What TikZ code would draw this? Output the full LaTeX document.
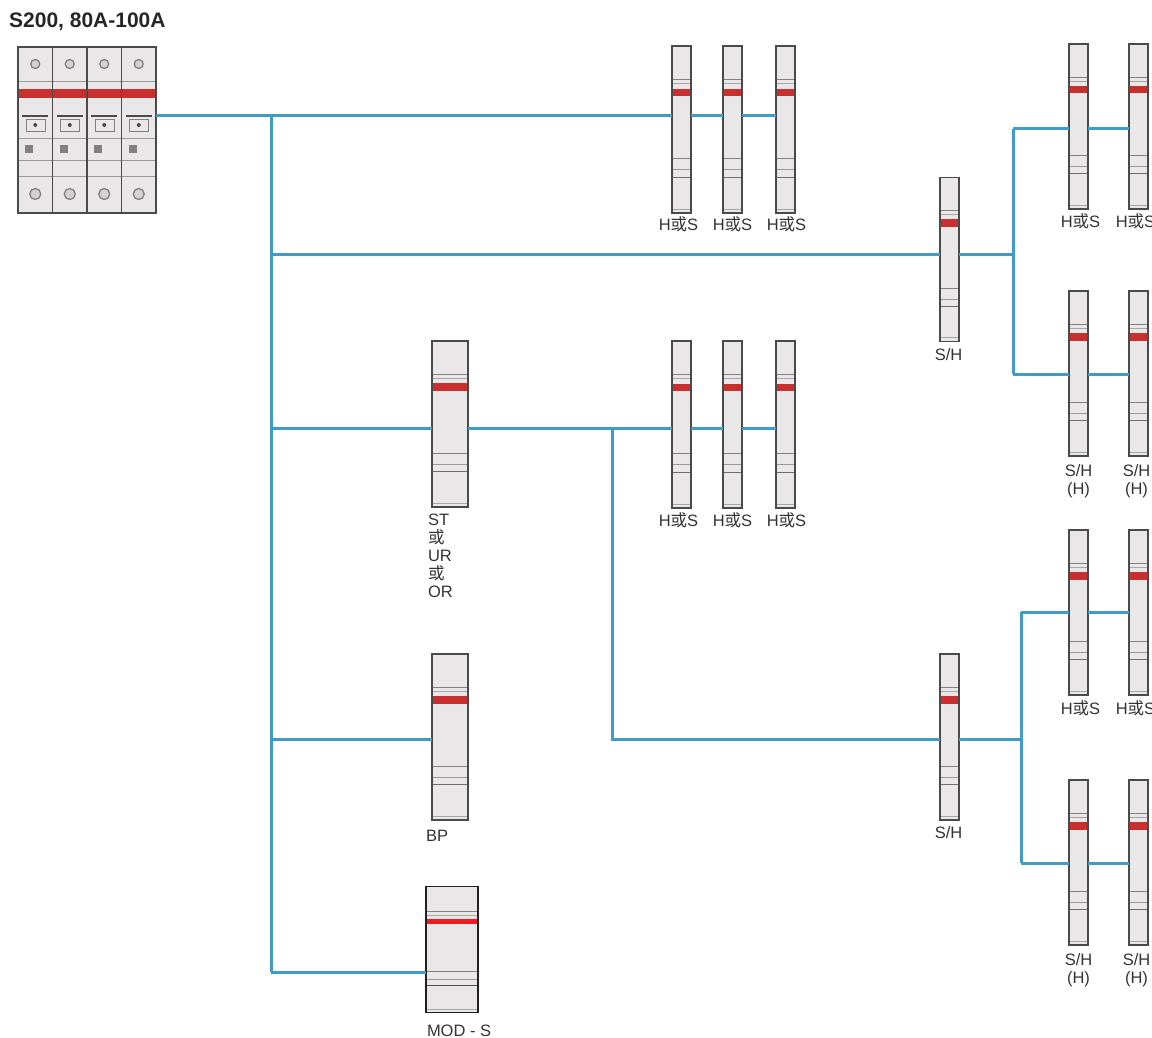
\documentclass[tikz,border=0pt]{standalone}
\usepackage{fontspec}
\setmainfont{Liberation Sans}
\newfontfamily\cjk{Noto Sans CJK SC}
\usetikzlibrary{positioning}
\definecolor{wire}{HTML}{3F9CC9}
\definecolor{band}{HTML}{C8302F}
\definecolor{casing}{HTML}{E9E7E7}
\definecolor{edge}{HTML}{4A4A4A}
\newcommand{\ho}{{\cjk 或}}

\begin{document}
\begin{tikzpicture}[x=1pt, y=-1pt,
	module/.style 2 args={rectangle, draw=edge, fill=casing, line width=1.5pt, inner sep=0, outer sep=0, minimum width=#1, minimum height=#2,
		path picture={
			\begin{scope}[x=#1, y=-#2]
				\draw[gray, line width=.8pt] (-.5,-.3) -- (.5,-.3);
				\draw[gray!70, line width=.6pt] (-.5,-.275) -- (.5,-.275);
				\fill[band] (-.5,-.245) rectangle (.5,-.2);
				\draw[gray, line width=.8pt] (-.5,.175) -- (.5,.175);
				\draw[gray!80, line width=.6pt] (-.5,.24) -- (.5,.24);
				\draw[edge!80, line width=.9pt] (-.5,.285) -- (.5,.285);
				\draw[gray!70, line width=.6pt] (-.5,.475) -- (.5,.475);
			\end{scope}
		}},
	pole/.style={rectangle, draw=edge, fill=casing, line width=1.4pt, inner sep=0, outer sep=0, minimum width=34.5pt, minimum height=166pt,
		path picture={
			\fill[edge] (-9,-83) rectangle (9,-81.5);
			\fill[edge] (-9,81.5) rectangle (9,83);
			\draw[gray, line width=1.3pt, fill=gray!35] (0,-66) circle (4.5);
			\draw[gray!80, line width=.7pt] (-18,-49) -- (18,-49);
			\fill[band] (-18,-41) rectangle (18,-32);
			\draw[edge, line width=1.3pt] (-13,-14) -- (13,-14);
			\draw[gray, line width=.7pt] (-9,-11) rectangle (10,1);
			\fill[edge] (0,-5) circle (2);
			\draw[gray!80, line width=.8pt] (-18,8) -- (18,8);
			\fill[gray] (-10,15) rectangle (-2,23);
			\draw[gray!80, line width=.8pt] (-18,30) -- (18,30);
			\draw[gray!80, line width=.8pt] (-18,46) -- (18,46);
			\draw[gray, line width=1.3pt, fill=gray!35] (0,64) circle (5.5);
		}},
	links/.style={draw=wire, line width=3pt, line join=miter},
	tag/.style={inner sep=0, outer sep=0, align=center, text=black!80, font=\fontsize{16.5}{18}\selectfont}]

		\useasboundingbox (0,0) rectangle (1152,1038);

		\coordinate (tapa) at (271,116);
		\coordinate (tapb) at (271,254);
		\coordinate (tapc) at (271,428);
		\coordinate (tapd) at (271,739);
		\coordinate (tape) at (271,972);
		\coordinate (splitu) at (1013,254);
		\coordinate (lineu) at (1013,129);
		\coordinate (liner) at (1013,374);
		\coordinate (branch) at (612,428);
		\coordinate (branchend) at (612,739);
		\coordinate (splitp) at (1021,739);
		\coordinate (linep) at (1021,612);
		\coordinate (lineq) at (1021,863);

		\node[pole] at (35.25,130) (polea) {};
		\node[pole, right = 0pt of polea] (poleb) {};
		\node[pole, right = 0pt of poleb] (polec) {};
		\node[pole, right = 0pt of polec] (poled) {};
		\node[anchor=west, inner sep=0, text=black!85, font=\fontsize{21}{24}\selectfont\bfseries] at (9,22) (title) {S200, 80A-100A};

		\node[module={19pt}{167pt}] at (681.5,129.5) (hsa) {};
		\node[module={19pt}{167pt}, right = 32pt of hsa] (hsb) {};
		\node[module={19pt}{167pt}, right = 34pt of hsb] (hsc) {};

		\node[module={19pt}{167pt}, below = 128pt of hsa] (hta) {};
		\node[module={19pt}{167pt}, below = 128pt of hsb] (htb) {};
		\node[module={19pt}{167pt}, below = 128pt of hsc] (htc) {};

		\node[module={36pt}{166pt}] at (450,424) (st) {};
		\node[module={36pt}{166pt}, below = 147pt of st] (bp) {};

		\begin{scope}
			\definecolor{band}{HTML}{ED1C24}
			\definecolor{edge}{HTML}{231F20}
			\node[module={52pt}{126pt}] at (452,949.5) (mods) {};
		\end{scope}

		\node[module={19pt}{164pt}] at (949.5,259.5) (sha) {};
		\node[module={19pt}{166pt}] at (949.5,737) (shb) {};

		\node[module={19pt}{165pt}] at (1078.5,126.5) (ua) {};
		\node[module={19pt}{165pt}, right = 41pt of ua] (ub) {};
		\node[module={19pt}{165pt}, below = 82pt of ua] (ra) {};
		\node[module={19pt}{165pt}, below = 82pt of ub] (rb) {};
		\node[module={19pt}{165pt}, below = 74pt of ra] (pa) {};
		\node[module={19pt}{165pt}, below = 74pt of rb] (pb) {};
		\node[module={19pt}{165pt}, below = 85pt of pa] (qa) {};
		\node[module={19pt}{165pt}, below = 85pt of pb] (qb) {};

		\node[tag, below = 4pt of hsa, xshift=-3pt] (hsatag) {H\ho S};
		\node[tag, below = 4pt of hsb] (hsbtag) {H\ho S};
		\node[tag, below = 4pt of hsc, xshift=1pt] (hsctag) {H\ho S};
		\node[tag, below = 5pt of hta, xshift=-3pt] (htatag) {H\ho S};
		\node[tag, below = 5pt of htb] (htbtag) {H\ho S};
		\node[tag, below = 5pt of htc, xshift=1pt] (htctag) {H\ho S};

		\node[tag, below = 7pt of sha, xshift=-1pt] (shatag) {S/H};
		\node[tag, below = 7pt of shb, xshift=-1pt] (shbtag) {S/H};

		\node[tag, below = 5pt of ua, xshift=2pt] (uatag) {H\ho S};
		\node[tag, below = 5pt of ub, xshift=-3pt] (ubtag) {H\ho S};
		\node[tag, below = 9pt of ra] (ratag) {S/H\\(H)};
		\node[tag, below = 9pt of rb, xshift=-2pt] (rbtag) {S/H\\(H)};
		\node[tag, below = 6pt of pa, xshift=2pt] (patag) {H\ho S};
		\node[tag, below = 6pt of pb, xshift=-3pt] (pbtag) {H\ho S};
		\node[tag, below = 9pt of qa] (qatag) {S/H\\(H)};
		\node[tag, below = 9pt of qb, xshift=-2pt] (qbtag) {S/H\\(H)};

		\node[tag, align=left, anchor=north west] at (428,514) (sttag) {ST\\\ho\\UR\\\ho\\OR};
		\node[tag, anchor=north west] at (426,830) (bptag) {BP};
		\node[tag, anchor=north west] at (427,1025) (modstag) {MOD - S};

		\draw[links] (tapa) -- (tape);

		\draw[links] (poled.east |- tapa) -- (hsa.west |- tapa);
		\draw[links] (hsa.east |- tapa) -- (hsb.west |- tapa);
		\draw[links] (hsb.east |- tapa) -- (hsc.west |- tapa);

		\draw[links] (tapb) -- (sha.west |- tapb);
		\draw[links] (sha.east |- tapb) -- (splitu);
		\draw[links] (lineu) -- (liner);
		\draw[links] (lineu) -- (ua.west |- lineu);
		\draw[links] (ua.east |- lineu) -- (ub.west |- lineu);
		\draw[links] (liner) -- (ra.west |- liner);
		\draw[links] (ra.east |- liner) -- (rb.west |- liner);

		\draw[links] (tapc) -- (st.west |- tapc);
		\draw[links] (st.east |- tapc) -- (hta.west |- tapc);
		\draw[links] (hta.east |- tapc) -- (htb.west |- tapc);
		\draw[links] (htb.east |- tapc) -- (htc.west |- tapc);

		\draw[links] (branch) -- (branchend) -- (shb.west |- branchend);
		\draw[links] (shb.east |- splitp) -- (splitp);
		\draw[links] (linep) -- (lineq);
		\draw[links] (linep) -- (pa.west |- linep);
		\draw[links] (pa.east |- linep) -- (pb.west |- linep);
		\draw[links] (lineq) -- (qa.west |- lineq);
		\draw[links] (qa.east |- lineq) -- (qb.west |- lineq);

		\draw[links] (tapd) -- (bp.west |- tapd);
		\draw[links] (tape) -- (mods.west |- tape);

\end{tikzpicture}
\end{document}
